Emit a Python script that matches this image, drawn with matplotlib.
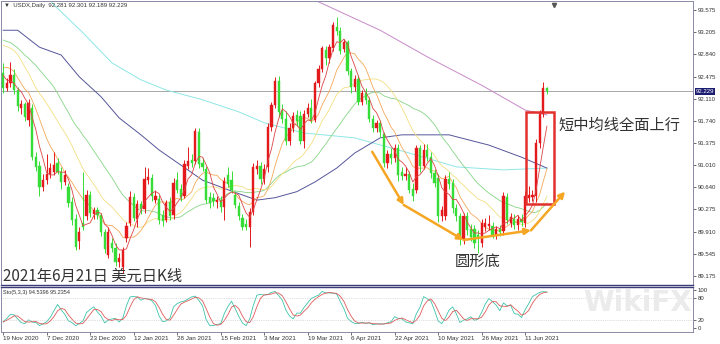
import numpy as np
import pandas as pd
import matplotlib
matplotlib.use('Agg')
import matplotlib.pyplot as plt
import matplotlib.transforms as mtransforms
from matplotlib.patches import Rectangle, Circle

# USDX daily, 19 Nov 2020 - 21 Jun 2021
opens = [92.53, 92.28, 92.37, 92.50, 92.25, 91.95, 92.02, 91.75, 91.95, 91.15,
         91.00, 90.65, 90.76, 90.87, 90.90, 91.04, 90.90, 90.73, 90.65, 90.40,
         90.12, 89.75, 90.05, 90.16, 90.51, 90.20, 90.26, 90.18, 89.90, 89.52,
         89.72, 89.64, 89.40, 89.33, 89.80, 90.05, 90.48, 90.12, 90.36, 90.28,
         90.76, 90.80, 90.44, 90.45, 90.18, 90.10, 90.40, 90.18, 90.76, 90.62,
         90.50, 91.00, 91.10, 91.08, 91.55, 91.04, 90.95, 90.48, 90.47, 90.40,
         90.43, 90.32, 90.85, 90.76, 90.52, 90.33, 90.13, 90.04, 89.98, 90.24,
         90.95, 91.00, 90.78, 90.98, 91.64, 92.00, 92.40, 91.90, 91.78, 91.40,
         91.62, 91.84, 91.82, 91.40, 91.86, 91.96, 91.76, 92.36, 92.60, 92.92,
         92.78, 92.95, 93.30, 93.23, 92.93, 93.04, 92.56, 92.30, 92.44, 92.06,
         92.20, 92.08, 91.78, 91.62, 91.70, 91.52, 91.05, 91.20, 91.12, 91.30,
         90.90, 90.83, 90.87, 90.62, 90.60, 91.29, 91.00, 91.26, 91.15, 90.88,
         90.80, 90.16, 90.16, 90.78, 90.72, 90.30, 90.16, 89.78, 90.16, 89.96,
         89.95, 89.86, 89.72, 89.98, 90.00, 90.00, 89.85, 89.95, 89.92, 90.48,
         90.05, 90.12, 90.02, 90.12, 90.05, 90.46, 90.48, 90.50, 91.38, 91.86,
         92.281]
highs = [92.70, 92.45, 92.72, 92.60, 92.30, 92.08, 92.06, 92.10, 92.02, 91.22,
         91.08, 90.86, 91.20, 91.05, 91.22, 91.12, 90.98, 90.93, 90.72, 90.48,
         90.20, 89.98, 90.90, 90.60, 90.58, 90.32, 90.32, 90.22, 89.96, 89.98,
         89.80, 89.72, 89.56, 89.66, 90.06, 90.58, 90.55, 90.44, 90.42, 90.98,
         90.96, 90.86, 90.60, 90.52, 90.26, 90.44, 90.48, 90.80, 90.90, 90.70,
         91.10, 91.31, 91.20, 91.62, 91.62, 91.12, 91.00, 90.56, 90.55, 90.50,
         90.50, 90.82, 90.98, 90.92, 90.58, 90.40, 90.20, 90.12, 90.30, 91.05,
         91.10, 91.06, 91.02, 91.70, 92.05, 92.47, 92.48, 92.02, 91.90, 91.70,
         91.88, 91.92, 91.90, 91.92, 92.04, 92.10, 92.40, 92.66, 92.98, 92.98,
         93.02, 93.38, 93.46, 93.30, 93.10, 93.08, 92.62, 92.50, 92.50, 92.26,
         92.28, 92.14, 91.84, 91.76, 91.76, 91.56, 91.26, 91.30, 91.36, 91.36,
         90.98, 90.98, 90.92, 90.72, 91.34, 91.34, 91.36, 91.36, 91.22, 90.94,
         90.86, 90.34, 90.84, 90.90, 90.78, 90.36, 90.22, 90.22, 90.24, 90.04,
         90.02, 89.94, 90.12, 90.14, 90.18, 90.06, 90.00, 90.02, 90.57, 90.54,
         90.22, 90.20, 90.18, 90.20, 90.58, 90.66, 90.60, 91.44, 91.92, 92.39,
         92.301]
lows = [92.20, 92.24, 92.30, 92.18, 91.90, 91.86, 91.74, 91.66, 91.10, 90.92,
        90.50, 90.58, 90.70, 90.80, 90.84, 90.86, 90.62, 90.68, 90.32, 90.02,
        89.60, 89.62, 89.94, 90.10, 90.15, 90.12, 90.12, 89.84, 89.55, 89.48,
        89.58, 89.34, 89.32, 89.22, 89.74, 90.00, 90.08, 89.98, 90.20, 90.22,
        90.70, 90.42, 90.38, 90.04, 90.00, 90.06, 90.10, 90.12, 90.54, 90.42,
        90.46, 90.94, 90.98, 91.02, 90.96, 90.92, 90.38, 90.30, 90.34, 90.30,
        90.24, 90.10, 90.64, 90.54, 90.30, 90.10, 89.93, 89.94, 89.66, 90.18,
        90.86, 90.70, 90.70, 90.90, 91.58, 91.95, 91.80, 91.70, 91.34, 91.34,
        91.56, 91.66, 91.36, 91.30, 91.80, 91.70, 91.72, 92.30, 92.55, 92.66,
        92.70, 92.90, 93.16, 92.84, 92.88, 92.50, 92.20, 92.24, 92.00, 92.00,
        92.02, 91.72, 91.56, 91.56, 91.48, 90.98, 90.96, 91.02, 91.06, 90.74,
        90.76, 90.76, 90.54, 90.42, 90.54, 90.90, 90.94, 91.08, 90.80, 90.64,
        90.06, 90.08, 90.10, 90.62, 90.22, 90.08, 89.68, 89.70, 89.86, 89.76,
        89.64, 89.56, 89.66, 89.92, 89.94, 89.80, 89.78, 89.84, 89.86, 90.04,
        89.98, 89.96, 89.94, 90.00, 89.98, 90.40, 90.42, 90.40, 91.30, 91.80,
        92.189]
closes = [92.28, 92.37, 92.50, 92.25, 91.98, 92.02, 91.81, 92.03, 91.15, 90.98,
          90.65, 90.76, 90.87, 90.96, 91.01, 90.90, 90.73, 90.85, 90.38, 90.10,
          89.66, 89.91, 89.98, 90.51, 90.21, 90.26, 90.18, 89.90, 89.62, 89.90,
          89.64, 89.40, 89.48, 89.60, 90.00, 90.48, 90.14, 90.36, 90.28, 90.78,
          90.82, 90.49, 90.50, 90.10, 90.08, 90.38, 90.16, 90.72, 90.60, 90.48,
          91.03, 91.08, 91.05, 91.58, 91.02, 90.98, 90.44, 90.38, 90.41, 90.44,
          90.32, 90.75, 90.70, 90.60, 90.35, 90.16, 89.99, 89.99, 90.24, 90.98,
          91.00, 90.78, 90.95, 91.64, 92.00, 92.40, 91.88, 91.78, 91.40, 91.62,
          91.82, 91.74, 91.40, 91.86, 91.96, 91.76, 92.36, 92.60, 92.94, 92.78,
          92.97, 93.32, 93.23, 92.90, 93.04, 92.56, 92.30, 92.44, 92.06, 92.20,
          92.08, 91.78, 91.62, 91.70, 91.55, 91.05, 91.20, 91.12, 91.30, 90.85,
          90.83, 90.87, 90.60, 90.50, 91.29, 91.00, 91.26, 91.15, 90.88, 90.72,
          90.16, 90.27, 90.78, 90.70, 90.30, 90.16, 89.78, 90.16, 89.94, 89.82,
          89.72, 89.80, 90.05, 90.05, 90.04, 89.85, 89.95, 89.90, 90.50, 90.10,
          90.15, 90.02, 90.12, 90.06, 90.50, 90.52, 90.52, 91.38, 91.86, 92.28,
          92.229]

# closes of the sessions before the window, only to warm up the short MAs
prior_close = [93.60, 93.06, 93.06, 93.53, 93.39, 93.80, 93.68, 93.42, 93.07, 92.60,
               92.95, 92.77, 93.06, 92.93, 93.44, 93.90, 94.04, 94.02, 93.52, 93.45,
               92.52, 92.23, 92.73, 92.75, 93.00, 92.96, 92.76, 92.57, 92.44, 92.42]

# long averages: bar index -> price
ma60_idx = [0, 4, 10, 16, 21, 27, 32, 38, 43, 49, 55, 63, 70, 75, 81, 86, 92, 97, 104, 110, 123, 134, 143, 150]
ma60_val = [93.24, 93.24, 92.96, 92.83, 92.47, 92.14, 91.79, 91.51, 91.26, 91.01, 90.76, 90.58,
            90.43, 90.47, 90.57, 90.73, 90.96, 91.21, 91.46, 91.51, 91.51, 91.34, 91.14, 90.96]
ma120_idx = [12, 14, 22, 30, 38, 45, 55, 65, 72, 83, 97, 112, 125, 138, 150]
ma120_val = [93.80, 93.66, 93.20, 92.70, 92.42, 92.25, 92.09, 91.89, 91.71, 91.54, 91.46,
             91.21, 90.98, 90.93, 90.96]
ma200_idx = [83, 87, 104, 117, 132, 144, 150]
ma200_val = [93.82, 93.71, 93.24, 92.80, 92.33, 91.92, 91.84]

date_pos = [0, 12, 24, 36, 48, 60, 72, 84, 96, 108, 120, 132, 144]
date_labels = ['19 Nov 2020', '7 Dec 2020', '23 Dec 2020', '12 Jan 2021', '28 Jan 2021',
               '15 Feb 2021', '3 Mar 2021', '19 Mar 2021', '6 Apr 2021', '22 Apr 2021',
               '10 May 2021', '26 May 2021', '11 Jun 2021']
price_ticks = [93.575, 93.205, 92.840, 92.475, 92.110, 91.740, 91.375, 91.010,
               90.640, 90.275, 89.910, 89.545, 89.175]
last_price = 92.229

cjk = ['Noto Sans CJK SC', 'DejaVu Sans']
small = ['Liberation Sans', 'DejaVu Sans']

o = np.array(opens); h = np.array(highs); l = np.array(lows); c = np.array(closes)
idx = np.arange(len(c))

allc = pd.Series(prior_close + closes)
n0 = len(prior_close)
ma5 = allc.rolling(5).mean().values[n0:]
ma10 = allc.rolling(10).mean().values[n0:]
ma20 = allc.rolling(20).mean().values[n0:]
ma30 = allc.rolling(30).mean().values[n0:]

# stochastic 5,3,3
hs, ls, cs = pd.Series(h), pd.Series(l), pd.Series(c)
ll = ls.rolling(5, min_periods=1).min()
hh = hs.rolling(5, min_periods=1).max()
k = 100 * (cs - ll).rolling(3, min_periods=1).sum() / (hh - ll).rolling(3, min_periods=1).sum()
d = k.rolling(3, min_periods=1).mean()

fig = plt.figure(figsize=(7.2, 3.44), dpi=100)
ax = fig.add_axes([1/720, 59/344, 692/720, 284/344])
ax2 = fig.add_axes([1/720, 12/344, 692/720, 45/344])

up = c >= o
col = np.where(up, '#e3191c', '#36dd36')
ax.vlines(idx, l, h, colors=col, lw=0.7, zorder=3)
body = np.maximum(np.abs(c - o), 0.012)
ax.bar(idx, body, bottom=np.minimum(o, c), width=0.62, color=col, edgecolor=col, lw=0.3, zorder=4)

ax.plot(ma200_idx, ma200_val, color='#c88ac8', lw=0.7, zorder=2)
ax.plot(ma120_idx, ma120_val, color='#8fe6e6', lw=0.7, zorder=2)
ax.plot(ma60_idx, ma60_val, color='#55559a', lw=0.7, zorder=2)
ax.plot(idx, ma30, color='#86d486', lw=0.6, zorder=2)
ax.plot(idx, ma20, color='#f3df80', lw=0.6, zorder=2)
ax.plot(idx, ma10, color='#f4a85a', lw=0.6, zorder=2)
ax.plot(idx, ma5, color='#dc4545', lw=0.6, zorder=5)

ax.axhline(last_price, color='#a8a8a8', lw=0.7, zorder=1)

ax.set_xlim(-0.6, 190.3)
ax.set_ylim(89.026, 93.724)
ax.tick_params(axis='x', bottom=False, labelbottom=False)
ax.yaxis.tick_right()
ax.set_yticks(price_ticks)
ax.set_yticklabels(['%.3f' % v for v in price_ticks])
ax.tick_params(axis='y', length=2, width=0.5, pad=1.5, labelsize=4.3, colors='#333333')
for lab in ax.get_yticklabels():
    lab.set_family(small)
for s in ax.spines.values():
    s.set_color('#8a8aa8')
    s.set_linewidth(0.7)
ax.spines['bottom'].set_color('#3c3c78')
ax.spines['bottom'].set_linewidth(1.0)

bt = mtransforms.blended_transform_factory(ax.transAxes, ax.transData)
ax.text(1.004, last_price, '%.3f' % last_price, transform=bt, fontsize=4.3, color='white',
        family=small, va='center', ha='left',
        bbox=dict(boxstyle='square,pad=0.2', fc='#1c1c70', ec='none'))

ax.text(0.004, 0.992, '\u25bc  USDX,Daily  92.281 92.301 92.189 92.229', transform=ax.transAxes,
        fontsize=4.3, family=small, color='#333333', va='top', ha='left')
ax.plot([152.0], [93.66], marker='v', color='#555555', ms=3, clip_on=False)

# annotations
ax.add_patch(Rectangle((144.3, 90.37), 7.7, 1.52, fill=False, ec='#e3302c', lw=1.8, zorder=6))
arrow_pts = [((101.8, 91.23), (110.5, 90.35)), ((110.5, 90.35), (127.0, 89.77)),
             ((127.0, 89.77), (145.6, 89.93)), ((145.6, 89.93), (155.0, 90.57))]
for a, b in arrow_pts:
    ax.annotate('', xy=b, xytext=a, zorder=7,
                arrowprops=dict(arrowstyle='-|>,head_length=0.35,head_width=0.18',
                                color='#f5a623', lw=1.8, shrinkA=0, shrinkB=0))
ax.text(153.1, 91.673, '短中均线全面上行', family=cjk, fontsize=11, color='#333333',
        va='center', ha='left')
ax.text(124.7, 89.423, '圆形底', family=cjk, fontsize=11, color='#333333',
        va='center', ha='left')
ax.text(0.003, 0.032, '2021年6月21日 美元日K线', transform=ax.transAxes, family=cjk,
        fontsize=11, color='#333333', va='center', ha='left')

# stochastic panel
ax2.plot(idx, k.values, color='#3cc4a8', lw=0.6)
ax2.plot(idx, d.values, color='#e05a5a', lw=0.6)
ax2.axhline(20, color='#c0c0c0', lw=0.5, ls=':')
ax2.axhline(80, color='#c0c0c0', lw=0.5, ls=':')
ax2.set_xlim(-0.6, 190.3)
ax2.set_ylim(-10.5, 107.9)
ax2.yaxis.tick_right()
ax2.set_yticks([0, 20, 80, 100])
ax2.set_yticklabels(['0', '20', '80', '100'])
ax2.tick_params(axis='y', length=2, width=0.5, pad=1.5, labelsize=4.3, colors='#333333')
ax2.set_xticks(date_pos)
ax2.set_xticklabels(date_labels, ha='left')
ax2.tick_params(axis='x', length=2, width=0.5, pad=1, labelsize=4.5, colors='#333333')
for lab in ax2.get_xticklabels() + ax2.get_yticklabels():
    lab.set_family(small)
for s in ax2.spines.values():
    s.set_color('#8a8aa8')
    s.set_linewidth(0.7)
ax2.spines['top'].set_color('#3c3c78')
ax2.spines['top'].set_linewidth(1.0)
ax2.text(0.003, 0.93, 'Sto(5,3,3) 94.5396 95.2354', transform=ax2.transAxes,
         fontsize=4, family=small, color='#333333', va='top', ha='left')

# faint watermark
fig.add_artist(Circle((593/720, 1 - 303/344), 0.018, transform=fig.transFigure,
                      fill=False, ec='#eaeaea', lw=3, zorder=0))
fig.text(0.885, 0.118, 'WikiFX', fontsize=20, color='#ebebeb', weight='bold',
         ha='center', va='center', zorder=0)

fig.savefig('out.png', dpi=100)
